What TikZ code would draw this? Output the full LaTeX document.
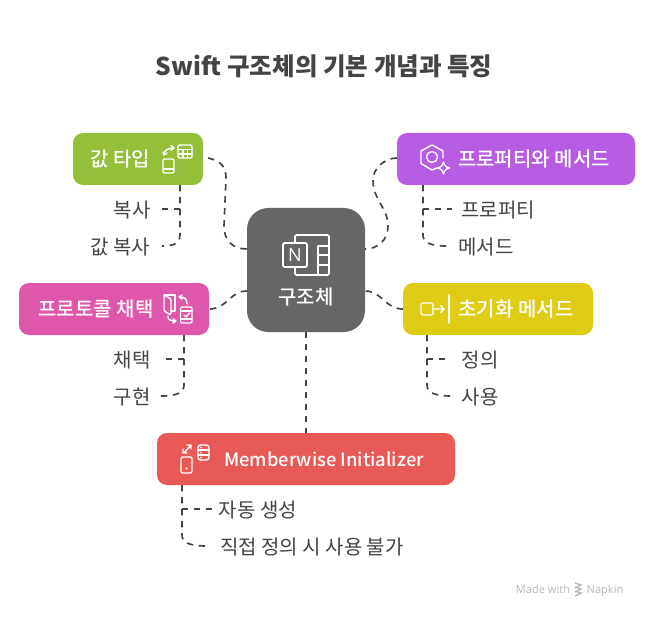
\documentclass[tikz,border=0pt]{standalone}
\usepackage{fontspec}
\setmainfont{Noto Sans CJK KR}
\newfontfamily\kr{Noto Sans CJK KR}
\newfontfamily\krm{Noto Sans CJK KR Medium}
\newfontfamily\lat{Open Sans}
\definecolor{ink}{HTML}{444444}
\definecolor{cgreen}{HTML}{95BF3A}
\definecolor{cpurple}{HTML}{B85CE3}
\definecolor{cpink}{HTML}{DF57AA}
\definecolor{cyellow}{HTML}{E0CC14}
\definecolor{cred}{HTML}{E85A55}
\definecolor{cgray}{HTML}{666666}
\tikzset{
  lnk/.style={draw=ink,line width=1.25pt,dash pattern=on 4.8pt off 4.2pt},
  lbl/.style={text=ink,font=\fontsize{15pt}{17pt}\selectfont,inner sep=0,anchor=center,yshift=-0.75pt},
  head/.style={text=white,font=\fontsize{15pt}{17pt}\selectfont\krm,inner sep=0,anchor=center,yshift=-0.75pt},
  ico/.style={draw=white,line width=1.05pt,line join=round,line cap=round,fill=none},
  foot/.style={text=black!28,font=\fontsize{8.3pt}{10pt}\selectfont\lat,inner sep=0,anchor=base},
}
\begin{document}
\begin{tikzpicture}[x=0.75pt,y=-0.75pt]
\useasboundingbox (0,0) rectangle (648,616);
\fill[white] (0,0) rectangle (648,616);
\node[text=ink,font=\fontsize{18.4pt}{22pt}\selectfont\bfseries,inner sep=0] (title) at (324,66) {Swift 구조체의 기본 개념과 특징};
% connector anchors
\coordinate (ga) at (208,158);
\coordinate (gb) at (247,249);
\coordinate (pa) at (397,158);
\coordinate (pb) at (365,249);
\coordinate (ma) at (210,309);
\coordinate (mb) at (247,291);
\coordinate (ya) at (403,309);
\coordinate (yb) at (365,291);
\coordinate (ca) at (306,332);
\coordinate (cb) at (306,433);
\draw[lnk] (ga) .. controls (222,161) and (226,168) .. (226,178) -- (224,226) .. controls (224,240) and (232,249) .. (gb);
\draw[lnk] (pa) .. controls (385,158) and (373,168) .. (373,180) .. controls (373,200) and (388,208) .. (388,226) .. controls (388,240) and (378,249) .. (pb);
\draw[lnk] (ma) .. controls (228,308) and (230,291) .. (mb);
\draw[lnk] (ya) .. controls (385,309) and (382,291) .. (yb);
\draw[lnk] (ca) -- (cb);
% children connectors
\coordinate (g0) at (180,185); \coordinate (g1) at (162,209); \coordinate (g2) at (162,246);
\draw[lnk] (g0) -- (180,235) .. controls (180,242) and (176,246) .. (g2);
\draw[lnk] (180,209) -- (g1);
\coordinate (m0) at (184,335); \coordinate (m1) at (166,359); \coordinate (m2) at (161,396);
\draw[lnk] (m0) -- (184,385) .. controls (184,392) and (178,396) .. (m2);
\draw[lnk] (184,359) -- (m1);
\coordinate (p0) at (423,185); \coordinate (p1) at (452,209); \coordinate (p2) at (447,246);
\draw[lnk] (p0) -- (423,235) .. controls (423,242) and (429,246) .. (p2);
\draw[lnk] (423,209) -- (p1);
\coordinate (y0) at (427,335); \coordinate (y1) at (447,359); \coordinate (y2) at (452,396);
\draw[lnk] (y0) -- (427,385) .. controls (427,392) and (433,396) .. (y2);
\draw[lnk] (427,359) -- (y1);
\coordinate (r0) at (182,485); \coordinate (r1) at (212,509); \coordinate (r2) at (207,546);
\draw[lnk] (r0) -- (182,535) .. controls (182,542) and (188,546) .. (r2);
\draw[lnk] (182,509) -- (r1);
% boxes
\fill[cgreen,rounded corners=7.5pt] (73,133) rectangle (203,185);
\fill[cpurple,rounded corners=7.5pt] (397,133) rectangle (635,185);
\fill[cpink,rounded corners=7.5pt] (19,283) rectangle (209,335);
\fill[cyellow,rounded corners=7.5pt] (403,283) rectangle (593,335);
\fill[cred,rounded corners=7.5pt] (157,433) rectangle (455,485);
\fill[cgray,rounded corners=16pt] (247,208) rectangle (365,332);
% box texts
\node[head] (t1) at (120,158) {값 타입};
\node[head] (t2) at (534,158) {프로퍼티와 메서드};
\node[head] (t3) at (96,308) {프로토콜 채택};
\node[head] (t4) at (516,308) {초기화 메서드};
\node[head,font=\fontsize{13.8pt}{16pt}\selectfont\krm] (t5) at (324,458) {Memberwise Initializer};
\node[head] (t6) at (306,296) {구조체};
% labels
\node[lbl] (l1) at (132,209) {복사};
\node[lbl] (l2) at (120,246) {값 복사};
\node[lbl] (l3) at (132,359) {채택};
\node[lbl] (l4) at (132,396) {구현};
\node[lbl] (l5) at (498,209) {프로퍼티};
\node[lbl] (l6) at (486,246) {메서드};
\node[lbl] (l7) at (480,359) {정의};
\node[lbl] (l8) at (480,396) {사용};
\node[lbl] (l9) at (258,509) {자동 생성};
\node[lbl] (l10) at (312,546) {직접 정의 시 사용 불가};
% icon green: phone + calculator + arrows
\draw[ico,rounded corners=1pt] (163,159) rectangle (174,173);
\draw[ico] (163,169) -- (174,169);
\draw[ico,rounded corners=1pt] (178,145) rectangle (192,158);
\draw[ico] (178,149.5) -- (192,149.5) (178,154) -- (192,154) (183,149.5) -- (183,158) (187.5,149.5) -- (187.5,158);
\draw[ico] (164,155) .. controls (164,150) and (168,148) .. (174,148);
\draw[ico] (171,145.5) -- (174,148) -- (171,150.5);
\draw[ico] (163,152) -- (164,155) -- (167,153);
% icon purple: hexagon + sparkle
\draw[ico] (437,168) -- (432,170) -- (421,163.5) -- (421,151) -- (432,145) -- (443,151) -- (443,158);
\draw[ico] (432,157) circle (5.5);
\draw[ico] (443.5,162) .. controls (444.5,165.5) and (445.5,167) .. (449.5,168) .. controls (445.5,169) and (444.5,170.5) .. (443.5,174) .. controls (442.5,170.5) and (441.5,169) .. (437.5,168) .. controls (441.5,167) and (442.5,165.5) .. (443.5,162) -- cycle;
% icon pink
\draw[ico,rounded corners=1pt] (164,295) -- (164,311) -- (171,315) -- (171,299) -- cycle;
\draw[ico] (164,295) -- (175,295) -- (175,311) -- (171,311);
\draw[ico,rounded corners=1pt] (180.5,307) rectangle (192,323);
\draw[ico] (180.5,311) -- (192,311) (180.5,319) -- (192,319);
\draw[ico] (184,315) -- (186,317) -- (189.5,313);
\draw[ico] (187,304) .. controls (187,298) and (184,297) .. (179,297) (182,295) -- (179,297) -- (182,299);
\draw[ico] (168,316) .. controls (168,320) and (170,321) .. (176,321) (173,319) -- (176,321) -- (173,323);
% icon yellow
\draw[ico,rounded corners=1.5pt] (421,303) rectangle (433,315);
\draw[ico] (433,309) -- (444,309) (440.5,305.5) -- (444,309) -- (440.5,312.5);
\draw[ico] (449,295) -- (449,323);
% icon red
\draw[ico,rounded corners=1pt] (181,457) rectangle (192,473);
\fill[white] (186.5,468.5) circle (1.2);
\draw[ico] (184,453) -- (191,445) (187,445) -- (191,445) -- (191,449) (183,449) -- (183,453) -- (187,453);
\draw[ico,rounded corners=2pt] (198,445) rectangle (209,460);
\draw[ico] (198,450) -- (209,450) (198,455) -- (209,455);
\fill[white] (201,447.5) circle (0.8) (201,452.5) circle (0.8) (201,457.5) circle (0.8);
% icon center
\draw[ico,line width=1.3pt,rounded corners=1pt] (295,235) rectangle (329,275);
\draw[ico,line width=1.3pt] (318,246) -- (329,246) (318,255) -- (329,255) (318,265) -- (329,265) (318,246) -- (318,275);
\draw[ico,line width=1.3pt,fill=cgray,rounded corners=1pt] (283,243) rectangle (307,267);
\node[text=white,font=\fontsize{13.5pt}{14pt}\selectfont\lat,inner sep=0] (iconN) at (295,255) {N};
% footer
\node[foot] (mw) at (543,593) {Made with};
\node[foot] (nk) at (605,593) {Napkin};
\foreach \yy in {583,587,591}{\draw[black!28,line width=1pt] (575,\yy) -- (581,\yy+2) -- (575,\yy+5);}
\end{tikzpicture}
\end{document}
